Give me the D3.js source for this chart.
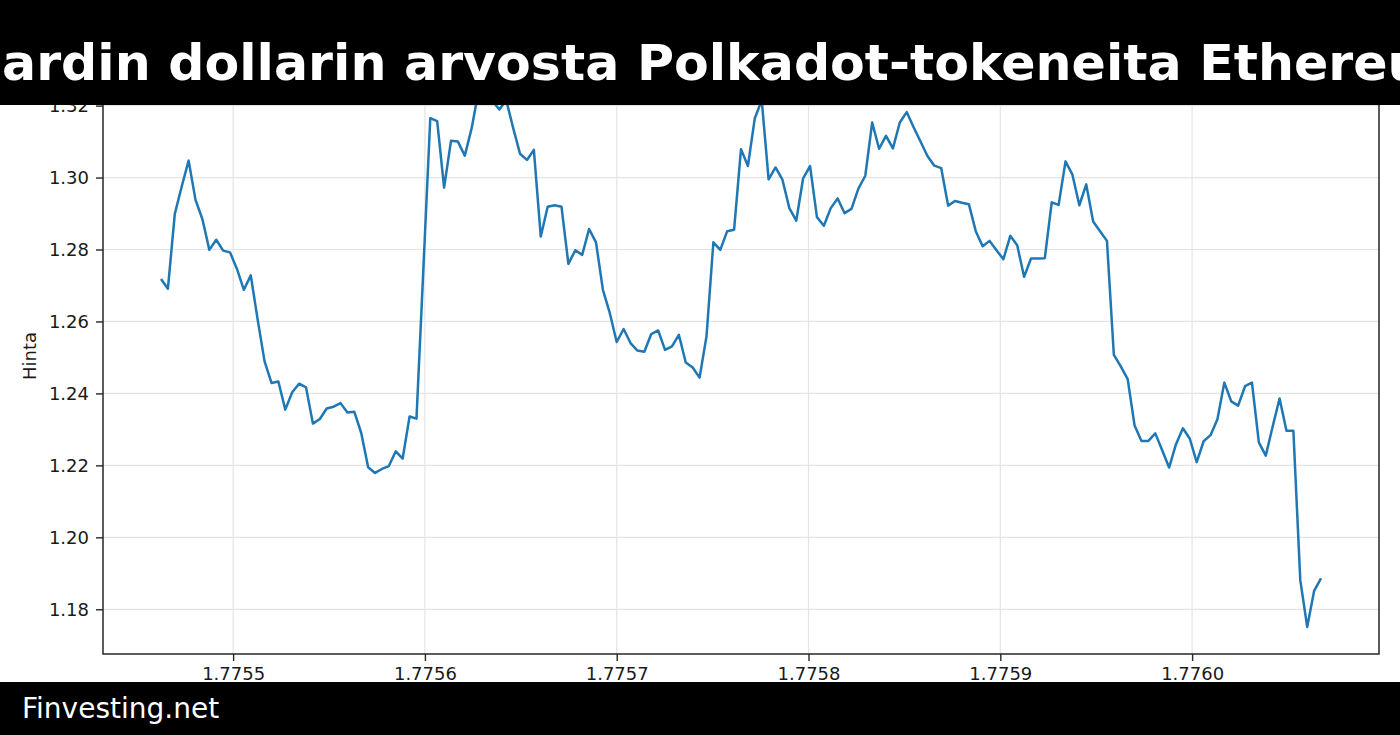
<!DOCTYPE html>
<html>
<head>
<meta charset="utf-8">
<script src="https://cdn.jsdelivr.net/npm/d3@7/dist/d3.min.js"></script>
<style>
  html, body { margin: 0; padding: 0; background: #ffffff; }
  svg { display: block; }
  text { font-family: "DejaVu Sans", sans-serif; }
</style>
</head>
<body>
<div id="chart"></div>
<script>
// ---- data (hourly prices, time in Unix seconds) ----
const startTime = 1775462400;      // first hourly sample (s)
const stepSeconds = 3600;          // one hour between samples
const prices = [
  1.2718, 1.2691, 1.2899, 1.2975, 1.3047, 1.2938, 1.2884, 1.2799, 1.2827, 1.2797,
  1.2792, 1.2746, 1.2688, 1.2728, 1.2605, 1.2489, 1.2429, 1.2433, 1.2355, 1.2403,
  1.2427, 1.2417, 1.2316, 1.2329, 1.2358, 1.2363, 1.2373, 1.2347, 1.2349, 1.2290,
  1.2195, 1.2179, 1.2190, 1.2198, 1.2239, 1.2219, 1.2336, 1.2330, 1.2747, 1.3165,
  1.3157, 1.2972, 1.3102, 1.3100, 1.3061, 1.3138, 1.3242, 1.3257, 1.3213, 1.3189,
  1.3215, 1.3138, 1.3066, 1.3049, 1.3077, 1.2836, 1.2919, 1.2923, 1.2919, 1.2760,
  1.2798, 1.2785, 1.2857, 1.2820, 1.2688, 1.2623, 1.2543, 1.2579, 1.2540, 1.2519,
  1.2516, 1.2565, 1.2575, 1.2521, 1.2531, 1.2563, 1.2486, 1.2472, 1.2444, 1.2558,
  1.2820, 1.2799, 1.2851, 1.2855, 1.3079, 1.3032, 1.3165, 1.3215, 1.2995, 1.3028,
  1.2994, 1.2915, 1.2880, 1.2998, 1.3032, 1.2890, 1.2866, 1.2915, 1.2942, 1.2901,
  1.2913, 1.2969, 1.3005, 1.3153, 1.3080, 1.3116, 1.3081, 1.3153, 1.3182, 1.3140,
  1.3100, 1.3060, 1.3033, 1.3026, 1.2922, 1.2935, 1.2930, 1.2926, 1.2851, 1.2809,
  1.2824, 1.2798, 1.2773, 1.2838, 1.2812, 1.2724, 1.2775, 1.2775, 1.2776, 1.2931,
  1.2924, 1.3045, 1.3008, 1.2923, 1.2981, 1.2878, 1.2851, 1.2824, 1.2507, 1.2475,
  1.2440, 1.2311, 1.2268, 1.2268, 1.2289, 1.2242, 1.2194, 1.2259, 1.2303, 1.2274,
  1.2209, 1.2267, 1.2284, 1.2328, 1.2430, 1.2378, 1.2366, 1.2420, 1.2430, 1.2264,
  1.2227, 1.2308, 1.2386, 1.2296, 1.2296, 1.1881, 1.1751, 1.1851, 1.1886
];
const times = prices.map((_, i) => startTime + i * stepSeconds);

const xTicks = [1775500000, 1775600000, 1775700000, 1775800000, 1775900000, 1776000000];
const xTickLabels = ["1.7755", "1.7756", "1.7757", "1.7758", "1.7759", "1.7760"];
const yTicks = [1.18, 1.20, 1.22, 1.24, 1.26, 1.28, 1.30, 1.32];
const yTickLabels = ["1.18", "1.20", "1.22", "1.24", "1.26", "1.28", "1.30", "1.32"];

const titleText = "Miljardin dollarin arvosta Polkadot-tokeneita Ethereumiin";
const titleVisibleFrom = 4;   // index of first character shown at the left edge
const yLabelText = "Hinta";
const footerText = "Finvesting.net";

// ---- layout ----
const W = 1400, H = 735;
const plot = { left: 103, right: 1379, top: 58, bottom: 654 };

const svg = d3.select("#chart").append("svg")
  .attr("width", W).attr("height", H)
  .attr("viewBox", `0 0 ${W} ${H}`);

svg.append("rect").attr("width", W).attr("height", H).attr("fill", "#ffffff");

// scales with 5% margins like matplotlib
const tExt = d3.extent(times);
const tPad = (tExt[1] - tExt[0]) * 0.05;
const x = d3.scaleLinear().domain([tExt[0] - tPad, tExt[1] + tPad]).range([plot.left, plot.right]);
const pExt = d3.extent(prices);
const pPad = (pExt[1] - pExt[0]) * 0.05;
const y = d3.scaleLinear().domain([pExt[0] - pPad, pExt[1] + pPad]).range([plot.bottom, plot.top]);

// grid
const grid = svg.append("g").attr("class", "grid");
grid.selectAll("line.h").data(yTicks).join("line")
  .attr("x1", plot.left).attr("x2", plot.right)
  .attr("y1", d => y(d)).attr("y2", d => y(d))
  .attr("stroke", "#e4e4e4").attr("stroke-width", 1.2);
grid.selectAll("line.v").data(xTicks).join("line")
  .attr("y1", plot.top).attr("y2", plot.bottom)
  .attr("x1", d => x(d)).attr("x2", d => x(d))
  .attr("stroke", "#e4e4e4").attr("stroke-width", 1.2);

// line
const line = d3.line().x((d, i) => x(times[i])).y(d => y(d));
svg.append("path").datum(prices)
  .attr("d", line)
  .attr("fill", "none")
  .attr("stroke", "#1f77b4")
  .attr("stroke-width", 2.5)
  .attr("stroke-linejoin", "round");

// axes
const axisColor = "#262626";
const yAxis = d3.axisLeft(y).tickValues(yTicks)
  .tickFormat((d, i) => yTickLabels[i]).tickSize(7).tickPadding(7);
const gy = svg.append("g").attr("transform", `translate(${plot.left},0)`).call(yAxis);
gy.select(".domain").remove();
gy.selectAll(".tick line").attr("stroke", axisColor).attr("stroke-width", 1.4);
gy.selectAll(".tick text").attr("fill", "#1a1a1a")
  .style("font-size", "18px").style("font-family", "DejaVu Sans, sans-serif");

const xAxis = d3.axisBottom(x).tickValues(xTicks)
  .tickFormat((d, i) => xTickLabels[i]).tickSize(7).tickPadding(6);
const gx = svg.append("g").attr("transform", `translate(0,${plot.bottom})`).call(xAxis);
gx.select(".domain").remove();
gx.selectAll(".tick line").attr("stroke", axisColor).attr("stroke-width", 1.4);
gx.selectAll(".tick text").attr("fill", "#1a1a1a")
  .style("font-size", "18px").style("font-family", "DejaVu Sans, sans-serif");

// spines
svg.append("rect")
  .attr("x", plot.left).attr("y", plot.top)
  .attr("width", plot.right - plot.left).attr("height", plot.bottom - plot.top)
  .attr("fill", "none").attr("stroke", axisColor).attr("stroke-width", 1.5);

// y label
svg.append("text")
  .attr("transform", `translate(36,${(plot.top + plot.bottom) / 2}) rotate(-90)`)
  .attr("text-anchor", "middle")
  .attr("fill", "#1a1a1a")
  .style("font-size", "18px")
  .text(yLabelText);

// title banner
svg.append("rect").attr("x", 0).attr("y", 0).attr("width", W).attr("height", 105).attr("fill", "#000000");
const title = svg.append("text")
  .attr("x", 0).attr("y", 80)
  .attr("fill", "#ffffff")
  .style("font-size", "50.6px").style("font-weight", "bold")
  .text(titleText);
const visStart = title.node().getStartPositionOfChar(titleVisibleFrom).x;
title.attr("x", 2 - visStart);

// footer banner
svg.append("rect").attr("x", 0).attr("y", 682).attr("width", W).attr("height", H - 682).attr("fill", "#000000");
svg.append("text")
  .attr("x", 22).attr("y", 718)
  .attr("fill", "#ffffff")
  .style("font-size", "28px")
  .text(footerText);
</script>
</body>
</html>
